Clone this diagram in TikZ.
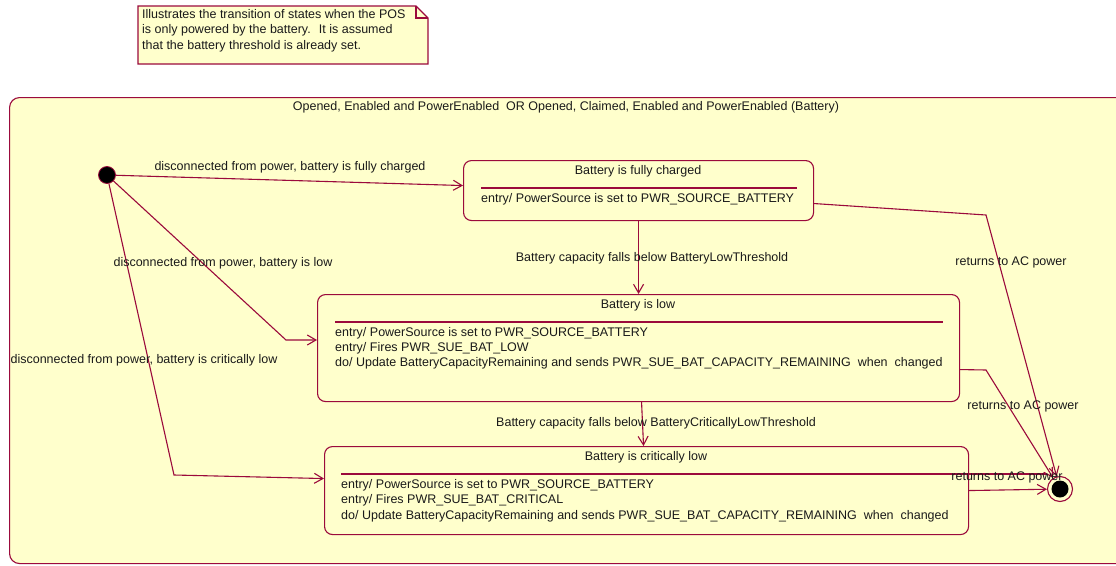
\documentclass[tikz,border=0pt]{standalone}
\usepackage{fontspec}
\setmainfont{Liberation Sans}
\usetikzlibrary{arrows.meta}
\definecolor{umlred}{HTML}{9B0A3C}
\definecolor{umlfill}{HTML}{FFFFCC}
\definecolor{umltext}{HTML}{1A1A1A}
\begin{document}
\begin{tikzpicture}[x=1pt,y=-1pt,
  edge/.style={draw=umlred, line width=1.1pt},
  trans/.style={draw=umlred, line width=1.1pt, -{Straight Barb[angle=60:10pt]}},
  statebox/.style={draw=umlred, fill=umlfill, rounded corners=8pt, line width=1.1pt, inner sep=0pt, anchor=north west},
  lbl/.style={font=\fontsize{12.5}{15}\selectfont, inner sep=0pt, text=umltext},
  body/.style={lbl, anchor=west},
]
\useasboundingbox (0,0) rectangle (1116,565);
\clip (0,0) rectangle (1116,565);
\fill[white] (0,0) rectangle (1116,565);

% note
\draw[edge, fill=umlfill] (138,6) -- (416,6) -- (428,18) -- (428,64) -- (138,64) -- cycle;
\draw[edge] (416,6) -- (416,18) -- (428,18);
\node[lbl, anchor=north west, align=left, font=\fontsize{12.5}{15.5}\selectfont] (note) at (142,9)
  {Illustrates the transition of states when the POS\\is only powered by the battery.~ It is assumed\\that the battery threshold is already set.};

% composite state
\node[statebox, rounded corners=10pt, minimum width=1130pt, minimum height=466pt] (comp) at (9,97) {};
\node[lbl] (comptitle) at (566,107) {Opened, Enabled and PowerEnabled~ OR Opened, Claimed, Enabled and PowerEnabled (Battery)};

% state: fully charged
\node[statebox, minimum width=350pt, minimum height=60pt] (full) at (463,160) {};
\node[lbl] (fulltitle) at (638,171) {Battery is fully charged};
\draw[edge] (481,188) -- (797,188);
\node[body] (fullb1) at (481,199) {entry/ PowerSource is set to PWR\_SOURCE\_BATTERY};

% state: low
\node[statebox, minimum width=642pt, minimum height=107pt] (low) at (317,294) {};
\node[lbl] (lowtitle) at (638,305) {Battery is low};
\draw[edge] (335,322) -- (943,322);
\node[body] (lowb1) at (335,333) {entry/ PowerSource is set to PWR\_SOURCE\_BATTERY};
\node[body] (lowb2) at (335,348) {entry/ Fires PWR\_SUE\_BAT\_LOW};
\node[body] (lowb3) at (335,363) {do/ Update BatteryCapacityRemaining and sends PWR\_SUE\_BAT\_CAPACITY\_REMAINING~ when~ changed};

% state: critically low
\node[statebox, minimum width=644pt, minimum height=88pt] (crit) at (324,446) {};
\node[lbl] (crittitle) at (646,457) {Battery is critically low};
\draw[edge] (341,474) -- (1046,474);
\node[body] (critb1) at (341,485) {entry/ PowerSource is set to PWR\_SOURCE\_BATTERY};
\node[body] (critb2) at (341,500) {entry/ Fires PWR\_SUE\_BAT\_CRITICAL};
\node[body] (critb3) at (341,516) {do/ Update BatteryCapacityRemaining and sends PWR\_SUE\_BAT\_CAPACITY\_REMAINING~ when~ changed};

% pseudo states
\node[circle, fill=black, draw=umlred, line width=0.8pt, minimum size=17pt, inner sep=0pt] (init) at (107,175) {};
\node[circle, fill=umlfill, draw=umlred, line width=1.1pt, minimum size=25pt, inner sep=0pt] (final) at (1060,489) {};
\node[circle, fill=black, minimum size=17pt, inner sep=0pt] (finalin) at (final) {};

% bend points
\coordinate (k2) at (286,340);
\coordinate (k3) at (174,475);
\coordinate (k6) at (986,215);
\coordinate (k7) at (986,370);

% transitions
\draw[trans] (init) -- ([yshift=5pt]full.west);
\draw[trans] (init) -- (k2) -- (low.west |- k2);
\draw[trans] (init) -- (k3) -- ([yshift=12pt]crit.west);
\draw[trans] (full.south) -- (low.north);
\draw[trans] ([xshift=3pt]low.south) -- ([xshift=-3pt]crit.north);
\draw[trans] ([yshift=-13pt]full.east) -- (k6) -- (final);
\draw[trans] ([yshift=-21.5pt]low.east) -- (k7) -- (final);
\draw[trans] (crit.east) -- (final);

% labels
\node[lbl] (l1) at (290,167) {disconnected from power, battery is fully charged};
\node[lbl] (l2) at (223,263) {disconnected from power, battery is low};
\node[lbl] (l3) at (144,360) {disconnected from power, battery is critically low};
\node[lbl] (l4) at (652,258) {Battery capacity falls below BatteryLowThreshold};
\node[lbl] (l5) at (656,423) {Battery capacity falls below BatteryCriticallyLowThreshold};
\node[lbl] (l6) at (1011,262) {returns to AC power};
\node[lbl] (l7) at (1023,406) {returns to AC power};
\node[lbl] (l8) at (1007,477) {returns to AC power};
\end{tikzpicture}
\end{document}
